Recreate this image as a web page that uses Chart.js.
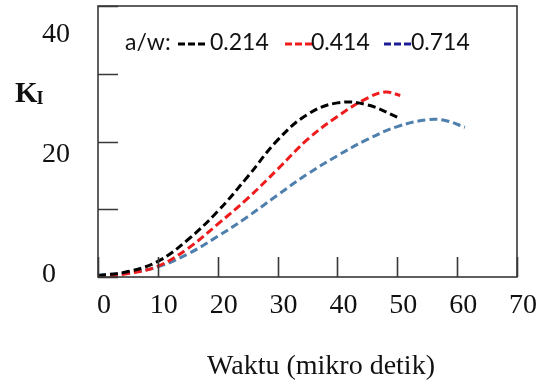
<!DOCTYPE html>
<html><head><meta charset="utf-8">
<style>html,body{margin:0;padding:0;background:#fff;}#wrap{width:539px;height:381px;position:relative;}</style>
<script src="https://cdn.jsdelivr.net/npm/chart.js@4.4.1/dist/chart.umd.min.js"></script>
</head><body><div id="wrap"><canvas id="c" width="539" height="381"></canvas></div>
<script>
// ---- data ----
const legendPrefix = 'a/w:';
const seriesLabels = ['0.214', '0.414', '0.714'];
const time0214 = [0, 5, 10, 15, 20, 25, 30, 35, 40, 45, 50.5];
const k0214    = [0.2, 0.8, 2.3, 5.5, 9.7, 14.8, 20.2, 24.0, 25.7, 25.4, 23.4];
const time0414 = [0, 5, 10, 15, 20, 25, 30, 35, 40, 45, 48, 50.5];
const k0414    = [0.0, 0.5, 1.6, 4.2, 7.8, 11.6, 15.9, 20.3, 23.7, 26.4, 27.3, 26.8];
const time0714 = [0, 5, 10, 15, 20, 25, 30, 35, 40, 45, 50, 55, 58, 61.3];
const k0714    = [0.3, 0.6, 1.5, 3.4, 6.0, 8.9, 12.1, 15.2, 17.9, 20.3, 22.2, 23.2, 23.1, 22.1];
const xTickValues = [0, 10, 20, 30, 40, 50, 60, 70];
const yTickMarks = [0, 10, 20, 30, 40];
const yTickLabels = [0, 20, 40];
const xTitle = 'Waktu (mikro detik)';
const yTitleMain = 'K';
const yTitleSub = 'I';

// ---- styles ----
const lineColors = ['#000000', '#ee1c1c', '#4f7fad'];
const legendColors = ['#000000', '#ee1c1c', '#1c1c96'];
const serif = "'Liberation Serif', 'Times New Roman', serif";
const sans = "Lato, 'Open Sans', sans-serif";

const pts = (xs, ys) => xs.map((x, i) => ({x: x, y: ys[i]}));
const seriesData = [pts(time0214, k0214), pts(time0414, k0414), pts(time0714, k0714)];

const deco = {
  id: 'deco',
  afterDraw(chart) {
    const {ctx, chartArea: a, scales} = chart;
    ctx.save();
    ctx.strokeStyle = '#383838';
    ctx.lineWidth = 1.6;
    ctx.strokeRect(a.left, a.top, a.right - a.left, a.bottom - a.top);
    ctx.beginPath();
    xTickValues.forEach(v => {
      const px = Math.round(scales.x.getPixelForValue(v)) + 0.5;
      ctx.moveTo(px, a.bottom); ctx.lineTo(px, a.bottom - 20);
    });
    yTickMarks.forEach(v => {
      const py = Math.round(scales.y.getPixelForValue(v)) + 0.5;
      ctx.moveTo(a.left, py); ctx.lineTo(a.left + 20, py);
    });
    ctx.stroke();

    // y title K_I
    ctx.fillStyle = '#111';
    ctx.textBaseline = 'alphabetic';
    ctx.textAlign = 'left';
    ctx.font = 'bold 29px ' + serif;
    ctx.fillText(yTitleMain, 15, 102);
    const kw = ctx.measureText(yTitleMain).width;
    ctx.font = 'bold 18px ' + serif;
    ctx.fillText(yTitleSub, 15 + kw - 1, 104);

    // x title
    ctx.font = '28px ' + serif;
    ctx.textAlign = 'center';
    ctx.fillText(xTitle, 321, 374);

    // legend
    ctx.textAlign = 'left';
    ctx.font = '23px ' + sans;
    ctx.fillStyle = '#111';
    ctx.fillText(legendPrefix, 125, 50);
    const dashX = [178, 285, 384];
    const textX = [210, 311, 411];
    ctx.lineWidth = 3;
    ctx.setLineDash([7, 3]);
    seriesLabels.forEach((lab, i) => {
      ctx.strokeStyle = legendColors[i];
      ctx.beginPath();
      ctx.moveTo(dashX[i], 44); ctx.lineTo(dashX[i] + 27, 44);
      ctx.stroke();
      ctx.fillStyle = '#111';
      ctx.fillText(lab, textX[i], 50);
    });
    ctx.restore();
  }
};

new Chart(document.getElementById('c'), {
  type: 'line',
  data: {
    datasets: seriesLabels.map((lab, i) => ({
      label: lab,
      data: seriesData[i],
      borderColor: lineColors[i],
      backgroundColor: lineColors[i],
      borderWidth: 3,
      borderDash: [8, 4],
      pointRadius: 0,
      fill: false,
      tension: 0.4,
      xAxisID: 'x',
      yAxisID: 'y'
    }))
  },
  options: {
    responsive: false,
    animation: false,
    devicePixelRatio: 1,
    layout: {padding: {left: 42, top: 6, right: 22, bottom: 0}},
    plugins: {legend: {display: false}, tooltip: {enabled: false}},
    scales: {
      x: {
        type: 'linear', position: 'bottom', min: 0, max: 70,
        afterBuildTicks: s => { s.ticks = xTickValues.map(v => ({value: v})); },
        ticks: {font: {family: serif, size: 28}, color: '#111', padding: 12, labelOffset: 6, maxRotation: 0, autoSkip: false},
        grid: {display: false, drawTicks: false},
        border: {display: false},
        afterFit: s => { s.height = 104; s.paddingLeft = 0; s.paddingRight = 0; }
      },
      y: {type: 'linear', display: false, min: 0, max: 40},
      yL: {
        type: 'linear', position: 'left', min: -0.33, max: 44.83,
        afterBuildTicks: s => { s.ticks = yTickLabels.map(v => ({value: v})); },
        ticks: {font: {family: serif, size: 28}, color: '#111', crossAlign: 'far', padding: 0},
        grid: {display: false, drawTicks: false},
        border: {display: false},
        afterFit: s => { s.width = 56; s.paddingTop = 0; s.paddingBottom = 0; }
      }
    }
  },
  plugins: [deco]
});
</script>
</body></html>
